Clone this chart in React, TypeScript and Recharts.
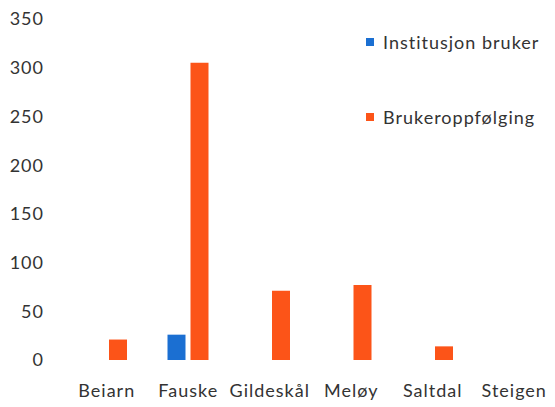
import { BarChart, Bar, XAxis, YAxis } from 'recharts';

const categories = ['Beiarn', 'Fauske', 'Gildeskål', 'Meløy', 'Saltdal', 'Steigen'];
const institusjonBruker = [0, 26, 0, 0, 0, 0];
const brukeroppfolging = [21, 305, 71, 77, 14, 0];
const yTicks = [0, 50, 100, 150, 200, 250, 300, 350];

const BLUE = '#1b6fd2';
const ORANGE = '#fc5418';
const TEXT = '#333333';

const data = categories.map((name, i) => ({
  name,
  institusjon: institusjonBruker[i],
  oppfolging: brukeroppfolging[i],
}));

const legendItems = [
  { label: 'Institusjon bruker', color: BLUE },
  { label: 'Brukeroppfølging', color: ORANGE },
];

// legend drawn as an overlay so it doesn't eat into the plot width
const ChartLegend = () => (
  <div
    style={{
      position: 'absolute',
      top: 30,
      left: 366,
      fontFamily: 'Lato',
      fontSize: 18,
      letterSpacing: 1,
      color: TEXT,
    }}
  >
    {legendItems.map((item) => (
      <div key={item.label} style={{ display: 'flex', alignItems: 'center', height: 24, marginBottom: 51 }}>
        <span style={{ display: 'inline-block', width: 8, height: 8, background: item.color, marginRight: 9 }} />
        <span>{item.label}</span>
      </div>
    ))}
  </div>
);

export default function App() {
  const tickStyle = { fontFamily: 'Lato', fontSize: 18, fill: TEXT, letterSpacing: 1 };
  return (
    <div style={{ position: 'absolute', left: 0, top: 0, width: 555, height: 407, background: '#fff' }}>
      <BarChart
        width={555}
        height={407}
        data={data}
        margin={{ top: 19, right: 0, left: 0, bottom: 0 }}
        barSize={18}
        barGap={5}
      >
        <XAxis
          dataKey="name"
          axisLine={false}
          tickLine={false}
          height={47}
          tickMargin={18}
          tick={tickStyle}
          interval={0}
        />
        <YAxis
          domain={[0, 350]}
          ticks={yTicks}
          axisLine={false}
          tickLine={false}
          width={66}
          tickMargin={16}
          tick={tickStyle}
        />
        <Bar dataKey="institusjon" name="Institusjon bruker" fill={BLUE} isAnimationActive={false} />
        <Bar dataKey="oppfolging" name="Brukeroppfølging" fill={ORANGE} isAnimationActive={false} />
      </BarChart>
      <ChartLegend />
    </div>
  );
}
